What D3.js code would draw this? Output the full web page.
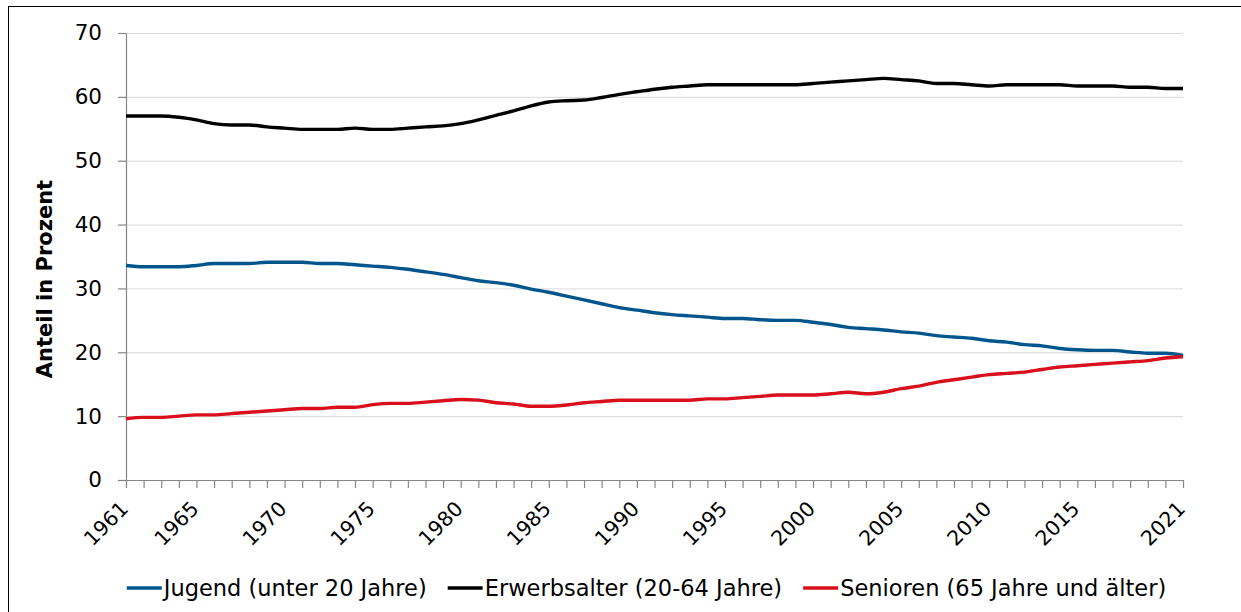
<!DOCTYPE html>
<html><head><meta charset="utf-8">
<script src="https://cdn.jsdelivr.net/npm/d3@7"></script>
<style>html,body{margin:0;padding:0;background:#fff;overflow:hidden}</style>
</head><body><svg id="c" width="1241" height="612"></svg>
<script>
const years = [1961,1962,1963,1964,1965,1966,1967,1968,1969,1970,
  1971,1972,1973,1974,1975,1976,1977,1978,1979,1980,
  1981,1982,1983,1984,1985,1986,1987,1988,1989,1990,
  1991,1992,1993,1994,1995,1996,1997,1998,1999,2000,
  2001,2002,2003,2004,2005,2006,2007,2008,2009,2010,
  2011,2012,2013,2014,2015,2016,2017,2018,2019,2020,2021];
const xTickLabels = ["1961","1965","1970","1975","1980","1985","1990","1995","2000","2005","2010","2015","2021"];
const yTicks = [0,10,20,30,40,50,60,70];
const seriesNames = ["Jugend (unter 20 Jahre)","Erwerbsalter (20-64 Jahre)","Senioren (65 Jahre und älter)"];
const jugend = [33.6,33.4,33.4,33.4,33.6,33.9,33.9,33.9,34.1,34.1,
  34.1,33.9,33.9,33.7,33.5,33.3,33.0,32.6,32.2,31.7,
  31.2,30.9,30.5,29.9,29.4,28.8,28.2,27.6,27.0,26.6,
  26.2,25.9,25.7,25.5,25.3,25.3,25.1,25.0,25.0,24.7,
  24.35,23.9,23.7,23.5,23.2,23.0,22.6,22.4,22.2,21.8,
  21.6,21.2,21.0,20.6,20.4,20.3,20.3,20.05,19.85,19.85,19.5];
const erwerbsalter = [57.0,57.0,57.0,56.8,56.4,55.8,55.6,55.6,55.3,55.1,
  54.9,54.9,54.9,55.1,54.9,54.9,55.1,55.3,55.45,55.8,
  56.4,57.1,57.8,58.6,59.2,59.4,59.5,59.9,60.4,60.8,
  61.2,61.5,61.7,61.9,61.9,61.9,61.9,61.9,61.9,62.1,
  62.3,62.5,62.7,62.9,62.7,62.5,62.1,62.1,61.9,61.7,
  61.9,61.9,61.9,61.9,61.7,61.7,61.7,61.5,61.5,61.3,61.3];
const senioren = [9.6,9.8,9.8,10.0,10.2,10.2,10.4,10.6,10.8,11.0,
  11.2,11.2,11.4,11.4,11.8,12.0,12.0,12.2,12.4,12.6,
  12.5,12.1,11.9,11.55,11.55,11.75,12.1,12.3,12.5,12.5,
  12.5,12.5,12.5,12.7,12.7,12.9,13.1,13.3,13.3,13.3,
  13.5,13.75,13.5,13.75,14.3,14.7,15.3,15.7,16.1,16.5,
  16.7,16.9,17.3,17.7,17.9,18.1,18.3,18.5,18.7,19.1,19.3];
const colors = ["#00568c","#000000","#d9101b"];
const yTitle = "Anteil in Prozent";

const FONT = "'DejaVu Sans', sans-serif";
const svg = d3.select("#c");
const L = 126, R = 1183, T = 33, B = 480;

svg.append("rect").attr("x",8.5).attr("y",6.5).attr("width",1400).attr("height",800)
  .attr("fill","none").attr("stroke","#000").attr("stroke-width",1);

const x = d3.scalePoint().domain(years).range([L, R]);
const y = d3.scaleLinear().domain([0,70]).range([B, T]);

// gridlines
const grid = svg.append("g").attr("transform",`translate(${L},0)`)
  .call(d3.axisLeft(y).tickValues(yTicks.slice(1)).tickSize(-(R-L)).tickFormat(""));
grid.select(".domain").remove();
grid.selectAll("line").attr("stroke","#d9d9d9").attr("stroke-width",1);

// y axis
const ya = svg.append("g").attr("transform",`translate(${L},0)`)
  .call(d3.axisLeft(y).tickValues(yTicks).tickSize(8).tickSizeOuter(0).tickPadding(16));
ya.selectAll("path,line").attr("stroke","#868686").attr("stroke-width",1.2);
ya.selectAll("text").attr("font-family",FONT).attr("font-size",21.5).attr("fill","#000");

// x axis
const xa = svg.append("g").attr("transform",`translate(0,${B})`)
  .call(d3.axisBottom(x).tickValues(years).tickSize(8).tickSizeOuter(0)
    .tickFormat(d => xTickLabels.includes(String(d)) ? String(d) : ""));
xa.selectAll("path,line").attr("stroke","#868686").attr("stroke-width",1.2);
xa.selectAll("text").attr("font-family",FONT).attr("font-size",20.5).attr("fill","#000")
  .attr("text-anchor","end").attr("x",0).attr("y",0).attr("dy",0)
  .attr("transform","translate(3,30) rotate(-45)");

// y title
svg.append("text").attr("transform","translate(52,279) rotate(-90)")
  .attr("text-anchor","middle").attr("font-family",FONT).attr("font-weight","bold")
  .attr("font-size",21).attr("fill","#000").text(yTitle);

// lines
const line = d3.line().x((d,i) => x(years[i])).y(d => y(d)).curve(d3.curveMonotoneX);
[jugend, erwerbsalter, senioren].forEach((s,i) => {
  svg.append("path").datum(s).attr("d", line).attr("fill","none")
    .attr("stroke", colors[i]).attr("stroke-width",3.4).attr("stroke-linejoin","round");
});

// legend
const GAP = 21;
const lg = svg.append("g");
let cx = 0;
seriesNames.forEach((n,i) => {
  const g = lg.append("g").attr("transform",`translate(${cx},0)`);
  g.append("line").attr("x1",0).attr("x2",35).attr("y1",0).attr("y2",0)
    .attr("stroke",colors[i]).attr("stroke-width",3.4);
  const t = g.append("text").attr("x",37).attr("y",7.8).attr("font-family",FONT)
    .attr("font-size",22.5).attr("fill","#000").text(n);
  cx += 37 + t.node().getComputedTextLength() + GAP;
});
cx -= GAP;
lg.attr("transform",`translate(${646.5 - cx/2},588)`);
</script></body></html>
